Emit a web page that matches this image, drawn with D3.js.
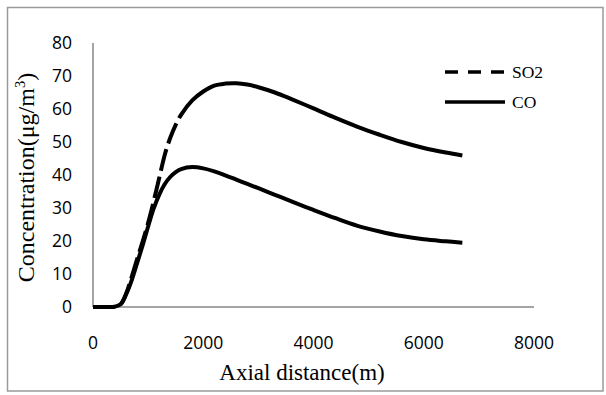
<!DOCTYPE html>
<html>
<head>
<meta charset="utf-8">
<script src="https://cdn.jsdelivr.net/npm/d3@7"></script>
<style>
  html, body { margin: 0; padding: 0; background: #fff; }
  svg { display: block; }
</style>
</head>
<body>
<svg id="chart" width="606" height="395"></svg>
<script>
// ---- data ----
const distance = [0, 200, 400, 500, 600, 700, 800, 900, 1000, 1100, 1200, 1300, 1400, 1500, 1600, 1800, 2000, 2200, 2400, 2600, 2800, 3000, 3300, 3600, 4000, 4400, 4800, 5200, 5600, 6000, 6400, 6700];
const so2 = [0, 0, 0.1, 0.8, 4, 9, 14.5, 19.8, 25.5, 32, 39, 46, 51.2, 55.2, 58.3, 62.6, 65.3, 67.1, 67.7, 67.8, 67.4, 66.6, 65.0, 63.0, 60.2, 57.3, 54.6, 52.2, 50.0, 48.2, 46.8, 45.9];
const co = [0, 0, 0.1, 0.8, 3.8, 8, 13.3, 18.7, 24.4, 29.8, 34, 37.2, 39.4, 40.9, 41.8, 42.4, 42.0, 41.1, 39.9, 38.6, 37.3, 36.0, 34.0, 32.0, 29.4, 26.9, 24.6, 22.9, 21.5, 20.5, 19.9, 19.5];
const seriesNames = ["SO2", "CO"];
const xTicks = [0, 2000, 4000, 6000, 8000];
const yTicks = [0, 10, 20, 30, 40, 50, 60, 70, 80];
const xTitle = "Axial distance(m)";
const yTitle = "Concentration(μg/m";

const svg = d3.select("#chart");

// frame
svg.append("rect")
  .attr("x", 7.5).attr("y", 7.5).attr("width", 595.5).attr("height", 383.5)
  .attr("fill", "none").attr("stroke", "#9a9a9a").attr("stroke-width", 1.5);

const x = d3.scaleLinear().domain([0, 8000]).range([93, 534]);
const y = d3.scaleLinear().domain([0, 80]).range([307, 43]);

// axes lines
svg.append("line").attr("x1", x(0)).attr("x2", x(0)).attr("y1", y(0)).attr("y2", y(80))
  .attr("stroke", "#868686").attr("stroke-width", 1.5);
svg.append("line").attr("x1", x(0)).attr("x2", x(8000)).attr("y1", y(0)).attr("y2", y(0))
  .attr("stroke", "#868686").attr("stroke-width", 1.5);

const tickFont = "'Open Sans', 'Liberation Sans', sans-serif";
const serif = "'Liberation Serif', 'Times New Roman', serif";

// y tick labels
svg.append("g").selectAll("text").data(yTicks).join("text")
  .attr("x", 72).attr("y", d => y(d)).attr("dy", "0.36em")
  .attr("text-anchor", "end")
  .attr("font-family", tickFont).attr("font-size", 17.5).attr("fill", "#000")
  .text(d => d);

// x tick labels
svg.append("g").selectAll("text").data(xTicks).join("text")
  .attr("x", d => x(d)).attr("y", 348.5)
  .attr("text-anchor", "middle")
  .attr("font-family", tickFont).attr("font-size", 17.5).attr("fill", "#000")
  .text(d => d);

// axis titles
svg.append("text").attr("x", 302).attr("y", 380)
  .attr("text-anchor", "middle").attr("font-family", serif).attr("font-size", 23)
  .attr("fill", "#000").text(xTitle);

const yt = svg.append("text")
  .attr("transform", "translate(34,177.5) rotate(-90)")
  .attr("text-anchor", "middle").attr("font-family", serif).attr("font-size", 24)
  .attr("fill", "#000");
yt.append("tspan").text(yTitle);
yt.append("tspan").attr("font-size", 14.5).attr("dy", -9.5).text("3");
yt.append("tspan").attr("dy", 9.5).text(")");

// lines
const line = (vals) => d3.line()
  .x((d, i) => x(distance[i]))
  .y(d => Math.min(y(0), y(d)))
  .curve(d3.curveCatmullRom.alpha(0.5))(vals);

const coPath = svg.append("path").attr("d", line(co))
  .attr("fill", "none").attr("stroke", "#000").attr("stroke-width", 4)
  .attr("stroke-linejoin", "round");

const so2Path = svg.append("path").attr("d", line(so2))
  .attr("fill", "none").attr("stroke", "#000").attr("stroke-width", 4)
  .attr("stroke-linejoin", "round");

// dashed only on the rising part (as in the reference), then solid
(function () {
  const node = so2Path.node();
  const total = node.getTotalLength();
  const xCut = x(1850);
  let lo = 0, hi = total;
  for (let k = 0; k < 40; k++) {
    const mid = (lo + hi) / 2;
    if (node.getPointAtLength(mid).x < xCut) lo = mid; else hi = mid;
  }
  const cut = lo;
  const pattern = [];
  let acc = 0;
  const dash = 22, gap = 6;
  while (acc + dash + gap < cut) { pattern.push(dash, gap); acc += dash + gap; }
  pattern.push(total - acc + 10, 0);
  so2Path.attr("stroke-dasharray", pattern.join(","));
})();

// legend
const legend = svg.append("g");
legend.append("line").attr("x1", 445).attr("x2", 505).attr("y1", 72).attr("y2", 72)
  .attr("stroke", "#000").attr("stroke-width", 3.5).attr("stroke-dasharray", "13,10");
legend.append("line").attr("x1", 445).attr("x2", 505).attr("y1", 102).attr("y2", 102)
  .attr("stroke", "#000").attr("stroke-width", 3.5);
legend.selectAll("text").data(seriesNames).join("text")
  .attr("x", 512).attr("y", (d, i) => 72 + i * 30).attr("dy", "0.35em")
  .attr("font-family", serif).attr("font-size", 17.5).attr("fill", "#000")
  .text(d => d);
</script>
</body>
</html>
